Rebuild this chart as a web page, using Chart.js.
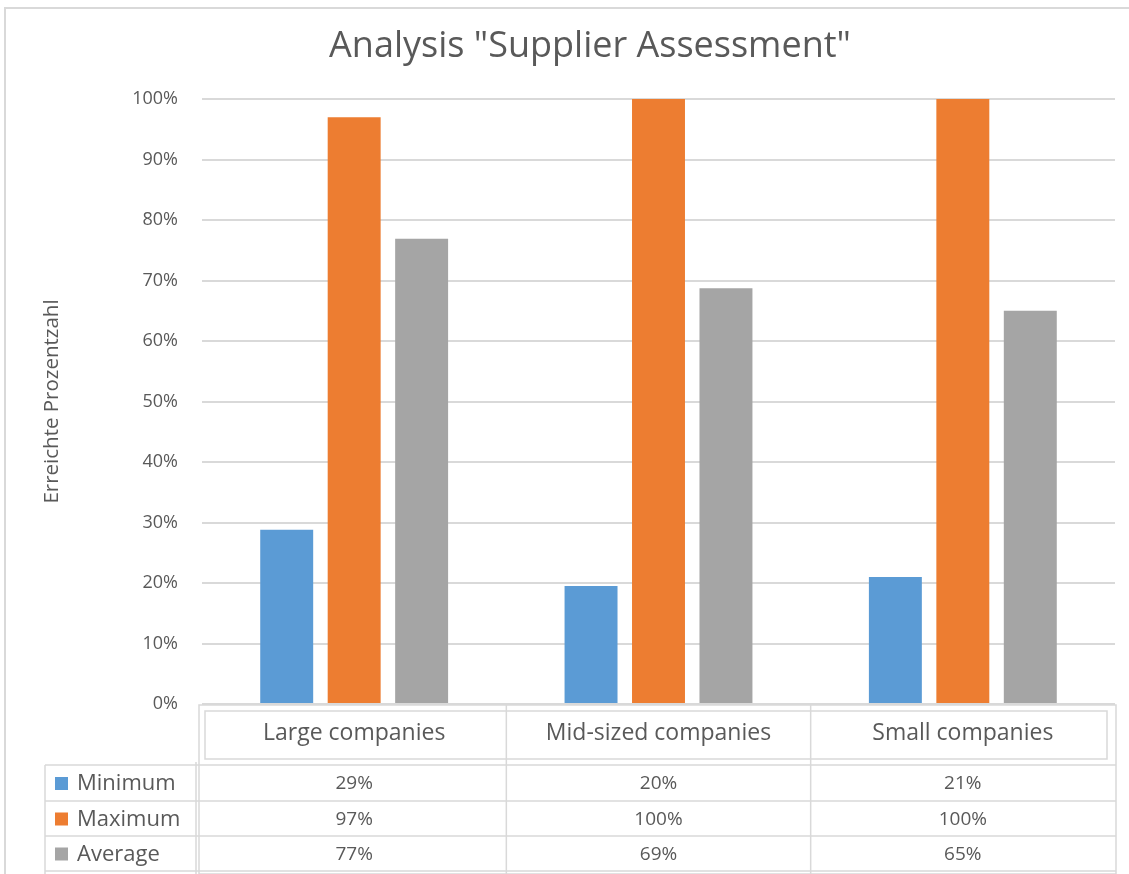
<!DOCTYPE html>
<html>
<head>
<meta charset="utf-8">
<title>Analysis "Supplier Assessment"</title>
<script src="https://cdn.jsdelivr.net/npm/chart.js@4/dist/chart.umd.min.js"></script>
<style>
  html, body { margin: 0; padding: 0; background: #fff; }
  canvas { display: block; }
</style>
</head>
<body>
<canvas id="grafico" width="1129" height="874"></canvas>
<script>
// Datos
const categorias = ['Large companies', 'Mid-sized companies', 'Small companies'];
const series = ['Minimum', 'Maximum', 'Average'];
const minimo = [0.288, 0.195, 0.21];
const maximo = [0.97, 1.0, 1.0];
const promedio = [0.769, 0.687, 0.65];
const colores = ['#5b9bd5', '#ed7d31', '#a5a5a5'];
const ticksY = [0, 0.1, 0.2, 0.3, 0.4, 0.5, 0.6, 0.7, 0.8, 0.9, 1.0];

const tituloTexto = 'Analysis "Supplier Assessment"';
const tituloEje = 'Erreichte Prozentzahl';

const gris = '#595959';
const linea = '#d9d9d9';
const fuente = '"Open Sans", "DejaVu Sans", sans-serif';

const pct = v => Math.round(v * 100) + '%';

// Marco, título y tabla de datos debajo del eje (estilo Excel)
const tablaPlugin = {
  id: 'tabla',
  afterDraw(chart) {
    const ctx = chart.ctx;
    const area = chart.chartArea;
    const x = chart.scales.x;
    const datos = chart.data.datasets;
    const ancho = (x.getPixelForValue(1) - x.getPixelForValue(0));

    ctx.save();
    ctx.strokeStyle = linea;
    ctx.lineWidth = 2;

    // marco exterior
    ctx.beginPath();
    ctx.moveTo(5, 900);
    ctx.lineTo(5, 8);
    ctx.lineTo(1140, 8);
    ctx.stroke();

    // título
    ctx.fillStyle = gris;
    ctx.font = '36px ' + fuente;
    ctx.textAlign = 'center';
    ctx.textBaseline = 'middle';
    ctx.fillText(tituloTexto, 590, 47);

    const izq = area.left - 3;
    const der = area.right + 1;
    const top = area.bottom + 1;
    const filas = [765, 801, 836, 871];
    const leyIzq = 45;

    ctx.lineWidth = 1.5;
    // cabecera: caja exterior y caja interior
    ctx.strokeRect(izq, top, der - izq, 874 - top);
    ctx.strokeRect(izq + 6, top + 6, der - izq - 15, 48);

    // divisiones de columnas
    for (let i = 1; i < categorias.length; i++) {
      const cx = x.getPixelForValue(i) - ancho / 2;
      ctx.beginPath();
      ctx.moveTo(cx, top);
      ctx.lineTo(cx, 874);
      ctx.stroke();
    }

    // filas
    filas.forEach(fy => {
      ctx.beginPath();
      ctx.moveTo(leyIzq, fy);
      ctx.lineTo(der, fy);
      ctx.stroke();
    });
    ctx.beginPath();
    ctx.moveTo(leyIzq, filas[0]);
    ctx.lineTo(leyIzq, 874);
    ctx.moveTo(izq - 3, filas[0] - 3);
    ctx.lineTo(izq - 3, 874);
    ctx.stroke();

    // leyenda y valores
    datos.forEach((ds, j) => {
      const cy = (filas[j] + filas[j + 1]) / 2;
      ctx.fillStyle = ds.backgroundColor;
      ctx.fillRect(55, cy - 6, 13, 13);
      ctx.fillStyle = gris;
      ctx.font = '22px ' + fuente;
      ctx.textAlign = 'left';
      ctx.fillText(ds.label, 77, cy + 1);

      ctx.font = '19px ' + fuente;
      ctx.textAlign = 'center';
      ds.data.forEach((v, i) => {
        ctx.fillText(pct(v), x.getPixelForValue(i), cy + 1);
      });
    });
    ctx.restore();
  }
};

new Chart(document.getElementById('grafico'), {
  type: 'bar',
  data: {
    labels: categorias,
    datasets: [
      { label: series[0], data: minimo, backgroundColor: colores[0] },
      { label: series[1], data: maximo, backgroundColor: colores[1] },
      { label: series[2], data: promedio, backgroundColor: colores[2] }
    ]
  },
  options: {
    responsive: false,
    animation: false,
    layout: { padding: { top: 99, right: 14, left: 0, bottom: 0 } },
    datasets: {
      bar: { categoryPercentage: 0.665, barPercentage: 0.785, borderWidth: 0 }
    },
    plugins: {
      legend: { display: false },
      title: { display: false },
      tooltip: { enabled: false }
    },
    scales: {
      x: {
        grid: { display: false, drawTicks: false },
        border: { display: false },
        ticks: { color: gris, font: { family: fuente, size: 23 }, padding: 16 },
        afterFit: s => { s.height = 170; }
      },
      y: {
        min: 0,
        max: 1,
        afterBuildTicks: s => { s.ticks = ticksY.map(v => ({ value: v })); },
        grid: { color: linea, lineWidth: 2, drawTicks: false },
        border: { display: false },
        ticks: {
          color: gris,
          font: { family: fuente, size: 18 },
          padding: 24,
          callback: v => pct(v)
        },
        title: {
          display: true,
          text: tituloEje,
          color: gris,
          font: { family: fuente, size: 20.5 },
          padding: { top: 40, bottom: 0 }
        },
        afterFit: s => { s.width = 202; }
      }
    }
  },
  plugins: [tablaPlugin]
});
</script>
</body>
</html>
